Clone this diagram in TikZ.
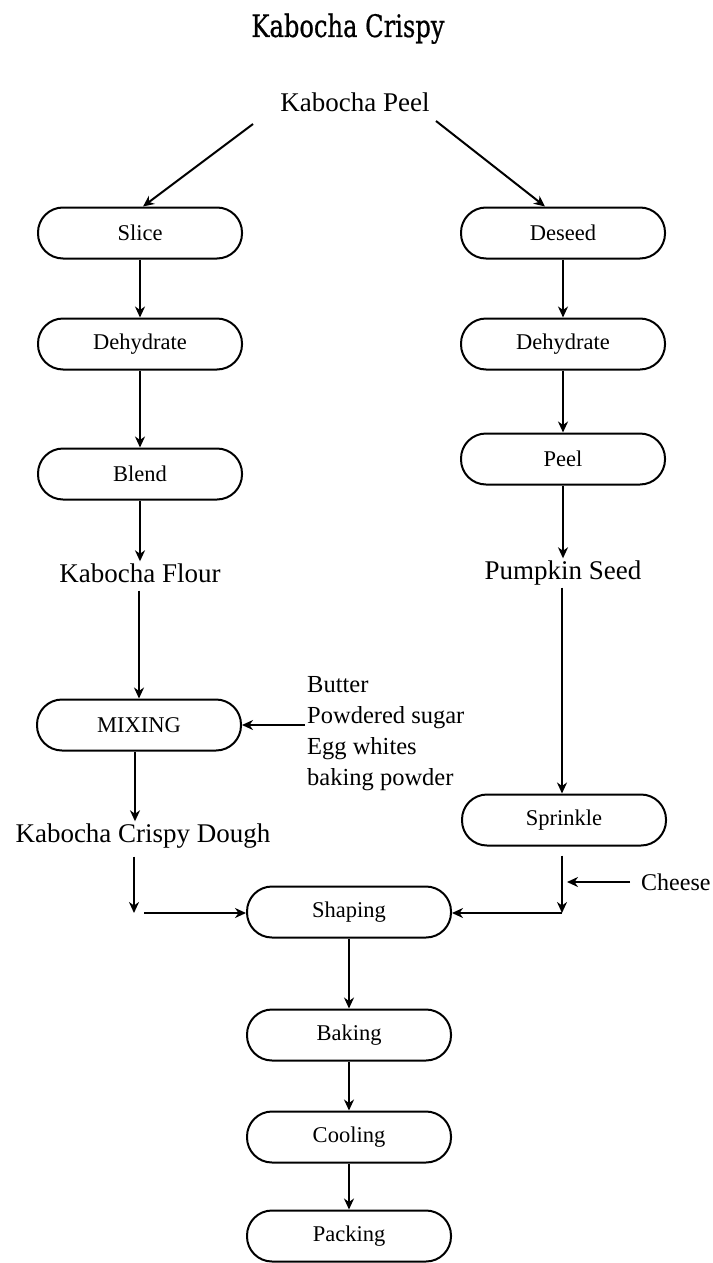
\documentclass[tikz,border=0pt]{standalone}
\usepackage{fontspec}
\setmainfont{Liberation Serif}
\newfontfamily\titlefont[FakeStretch=0.78, FakeBold=0.6]{DejaVu Serif}
\usetikzlibrary{arrows.meta}

\begin{document}
\begin{tikzpicture}[x=1pt, y=-1pt,
	proc/.style = {draw, line width=2pt, rounded corners=25pt,
		minimum width=204pt, minimum height=51pt, inner sep=0pt,
		font=\fontsize{22.5}{26}\selectfont},
	lbl/.style = {inner sep=3pt, text height=18pt, text depth=5pt,
		font=\fontsize{27}{32}\selectfont},
	arr/.style = {-{Stealth[length=11pt, width=10pt, inset=3.5pt]}, line width=2pt}]
	% Canvas
	\useasboundingbox (0,0) rectangle (712,1263);
	
	% Title and raw material
	\node[anchor=base, font=\titlefont\fontsize{31}{36}\selectfont] (title) at (348,37) {Kabocha Crispy};
	\node[lbl] (kpeel) at (355,105) {Kabocha Peel};
	
	% Flour branch
	\node[proc] (slice) at (140,233) {Slice};
	\node[proc] (dehyL) at (140,344) {Dehydrate};
	\node[proc] (blend) at (140,474) {Blend};
	\node[lbl] (flour) at (140,576) {Kabocha Flour};
	\node[proc] (mixing) at (139,725) {MIXING};
	\node[lbl] (dough) at (143,836) {Kabocha Crispy Dough};
	\node[align=left, anchor=west, inner sep=2pt,
		font=\fontsize{24.5}{31}\selectfont] (ingr) at (305,734)
		{Butter\\Powdered sugar\\Egg whites\\baking powder};
	
	% Seed branch
	\node[proc] (deseed) at (563,233) {Deseed};
	\node[proc] (dehyR) at (563,344) {Dehydrate};
	\node[proc] (peel) at (563,459) {Peel};
	\node[lbl] (pseed) at (563,573) {Pumpkin Seed};
	\node[proc] (sprinkle) at (564,820) {Sprinkle};
	\node[font=\fontsize{24}{29}\selectfont, anchor=west, inner sep=0pt] (cheese) at (641,882) {Cheese};
	
	% Common line
	\node[proc] (shaping) at (349,912) {Shaping};
	\node[proc] (baking) at (349,1035) {Baking};
	\node[proc] (cooling) at (349,1137) {Cooling};
	\node[proc] (packing) at (349,1236) {Packing};
	
	% Junctions
	\coordinate (jl) at (134,913);
	\coordinate (jr) at (562,913);
	\coordinate (pl) at (253,124);
	\coordinate (pr) at (436,121);
	
	% Arrows
	\draw[arr] (pl) -- ([xshift=3pt]slice.north);
	\draw[arr] (pr) -- ([xshift=-18pt]deseed.north);
	
	\draw[arr] (slice) -- (dehyL);
	\draw[arr] (dehyL) -- (blend);
	\draw[arr] (blend) -- (flour);
	\draw[arr] (flour.south -| mixing) -- (mixing);
	\draw[arr] ([xshift=-4pt]mixing.south) -- ([xshift=-4pt]mixing.south |- dough.north);
	\draw[arr] (mixing -| ingr.west) -- (mixing.east);
	\draw[arr] ([yshift=-6pt]dough.south -| jl) -- (jl);
	\draw[arr] ([xshift=10pt]jl) -- (jl -| shaping.west);
	
	\draw[arr] (deseed) -- (dehyR);
	\draw[arr] (dehyR) -- (peel);
	\draw[arr] (peel) -- (pseed);
	\draw[arr] (pseed.south -| jr) -- (jr |- sprinkle.north);
	\draw[arr] ([yshift=-9pt]sprinkle.south -| jr) -- (jr);
	\draw[arr] ([xshift=-11pt]cheese.west) -- ([xshift=5pt]jr |- cheese.west);
	\draw[arr] (jr) -- (jr -| shaping.east);
	
	\draw[arr] (shaping) -- (baking);
	\draw[arr] (baking) -- (cooling);
	\draw[arr] (cooling) -- (packing);
	
\end{tikzpicture}
\end{document}
